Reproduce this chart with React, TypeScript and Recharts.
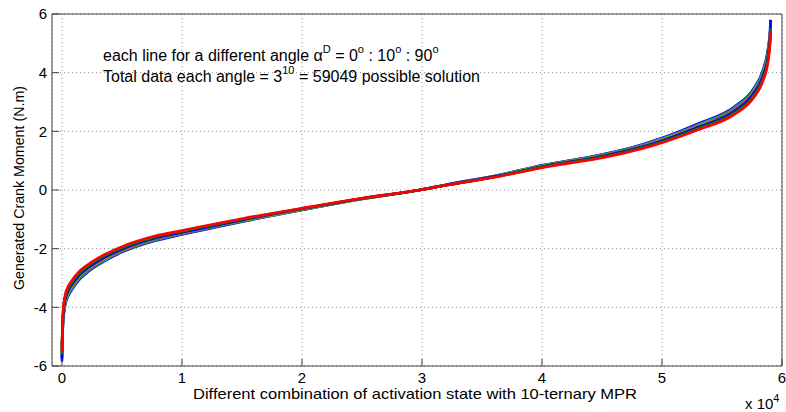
import React from "react";
import { LineChart, Line, XAxis, YAxis, CartesianGrid } from "recharts";

// combination index (sorted), shared by every angle
const combos = [
  0, 30, 100, 250, 500, 800, 1500, 2200, 3600, 5000, 7750, 10000, 15000, 20000,
  25000, 29800, 32000, 36500, 40000, 45000, 48000, 50000, 53000, 56000, 57600,
  58400, 58850, 59000, 59049,
];

// generated crank moment (N.m) for each angle, sorted
const deg0 = [-5.75, -5.1, -4.5, -3.96, -3.63, -3.41, -3.03, -2.78, -2.41, -2.12, -1.73, -1.52, -1.08, -0.68, -0.31, 0, 0.18, 0.52, 0.84, 1.21, 1.51, 1.77, 2.26, 2.83, 3.44, 4.07, 4.84, 5.4, 5.8];
const deg10 = [-5.4, -5.05, -4.45, -3.92, -3.6, -3.38, -3.0, -2.76, -2.39, -2.1, -1.71, -1.5, -1.07, -0.68, -0.31, 0, 0.17, 0.51, 0.83, 1.2, 1.49, 1.75, 2.23, 2.8, 3.41, 4.03, 4.8, 5.3, 5.5];
const deg20 = [-5.7, -4.85, -4.2, -3.71, -3.4, -3.19, -2.83, -2.61, -2.26, -1.99, -1.62, -1.42, -1.01, -0.64, -0.29, 0, 0.16, 0.48, 0.78, 1.13, 1.41, 1.66, 2.11, 2.65, 3.22, 3.81, 4.53, 5.1, 5.6];
const deg30 = [-5.55, -5.0, -4.4, -3.89, -3.56, -3.35, -2.97, -2.73, -2.37, -2.08, -1.7, -1.49, -1.06, -0.67, -0.3, 0, 0.17, 0.51, 0.82, 1.19, 1.48, 1.74, 2.21, 2.78, 3.38, 4.0, 4.75, 5.35, 5.7];
const deg40 = [-5.45, -4.95, -4.35, -3.85, -3.53, -3.32, -2.94, -2.71, -2.34, -2.07, -1.68, -1.48, -1.05, -0.66, -0.3, 0, 0.17, 0.5, 0.81, 1.18, 1.47, 1.72, 2.19, 2.75, 3.35, 3.96, 4.71, 5.3, 5.62];
const deg50 = [-5.5, -4.95, -4.3, -3.82, -3.5, -3.29, -2.92, -2.68, -2.32, -2.05, -1.66, -1.46, -1.04, -0.66, -0.3, 0, 0.17, 0.5, 0.81, 1.17, 1.45, 1.71, 2.17, 2.72, 3.32, 3.92, 4.66, 5.25, 5.55];
const deg60 = [-5.3, -4.9, -4.3, -3.78, -3.47, -3.26, -2.89, -2.66, -2.3, -2.03, -1.65, -1.45, -1.03, -0.65, -0.29, 0, 0.17, 0.49, 0.8, 1.16, 1.44, 1.69, 2.15, 2.7, 3.29, 3.89, 4.62, 5.2, 5.45];
const deg70 = [-5.85, -4.9, -4.25, -3.74, -3.43, -3.22, -2.86, -2.63, -2.28, -2.01, -1.63, -1.44, -1.02, -0.64, -0.29, 0, 0.17, 0.49, 0.79, 1.14, 1.42, 1.67, 2.13, 2.67, 3.26, 3.85, 4.58, 5.15, 5.8];
const deg80 = [-5.6, -4.85, -4.15, -3.67, -3.37, -3.16, -2.81, -2.58, -2.23, -1.97, -1.6, -1.41, -1.0, -0.63, -0.29, 0, 0.16, 0.48, 0.78, 1.12, 1.4, 1.64, 2.09, 2.62, 3.19, 3.77, 4.49, 5.05, 5.5];
const deg90 = [-5.5, -4.8, -4.1, -3.6, -3.3, -3.1, -2.75, -2.53, -2.19, -1.93, -1.57, -1.38, -0.98, -0.62, -0.28, 0, 0.16, 0.47, 0.76, 1.1, 1.37, 1.61, 2.05, 2.57, 3.13, 3.7, 4.4, 5.0, 5.4];

const angles = ["0", "10", "20", "30", "40", "50", "60", "70", "80", "90"];
const series = [deg0, deg10, deg20, deg30, deg40, deg50, deg60, deg70, deg80, deg90];
// matlab default line colour order
const colors = ["#0000ff", "#008000", "#ff0000", "#00bfbf", "#bf00bf", "#bfbf00", "#404040", "#0000ff", "#008000", "#ff0000"];

const xTicks = [0, 10000, 20000, 30000, 40000, 50000, 60000];
const yTicks = [-6, -4, -2, 0, 2, 4, 6];

const data = combos.map((c, i) => {
  const row: Record<string, number> = { combo: c };
  angles.forEach((a, k) => {
    row["a" + a] = series[k][i];
  });
  return row;
});

const W = 786;
const H = 412;
const font = "'Liberation Sans', Arial, Helvetica, sans-serif";
const tickStyle = { fontSize: 15, fill: "#000", fontFamily: font };
const frame = "#404040";

export default function App() {
  return (
    <div style={{ position: "absolute", left: 0, top: 0, width: W, height: H, background: "#fff" }}>
      <LineChart width={W} height={H} data={data} margin={{ top: 14, right: 4, bottom: 0, left: 0 }}>
        <CartesianGrid xAxisId="x" yAxisId="y" stroke="#8c8c8c" strokeDasharray="1 3" />
        <XAxis
          xAxisId="x"
          dataKey="combo"
          type="number"
          domain={[-830, 60000]}
          ticks={xTicks}
          allowDataOverflow
          height={46}
          tickSize={-7}
          tickMargin={13}
          tick={tickStyle}
          tickLine={{ stroke: frame }}
          axisLine={{ stroke: frame }}
          tickFormatter={(v) => `${v / 10000}`}
        />
        <XAxis
          xAxisId="top"
          orientation="top"
          mirror
          type="number"
          domain={[-830, 60000]}
          ticks={xTicks}
          allowDataOverflow
          tickSize={7}
          tick={false}
          tickLine={{ stroke: frame }}
          axisLine={{ stroke: frame }}
        />
        <YAxis
          yAxisId="y"
          type="number"
          domain={[-6, 6]}
          ticks={yTicks}
          width={52}
          tickSize={-7}
          tickMargin={12}
          tick={tickStyle}
          tickLine={{ stroke: frame }}
          axisLine={{ stroke: frame }}
        />
        <YAxis
          yAxisId="right"
          orientation="right"
          mirror
          type="number"
          domain={[-6, 6]}
          ticks={yTicks}
          tickSize={7}
          tick={false}
          tickLine={{ stroke: frame }}
          axisLine={{ stroke: frame }}
        />
        {angles.map((a, k) => (
          <Line
            key={a}
            xAxisId="x"
            yAxisId="y"
            type="monotone"
            dataKey={"a" + a}
            stroke={colors[k]}
            strokeWidth={2.6}
            dot={false}
            isAnimationActive={false}
          />
        ))}
      </LineChart>
      <svg width={W} height={H} style={{ position: "absolute", left: 0, top: 0, pointerEvents: "none" }}>
        <g fontFamily={font} fill="#000">
          <text x={103} y={61} fontSize={16}>
            each line for a different angle α
            <tspan dy={-8} fontSize={11}>D</tspan>
            <tspan dy={8}> = 0</tspan>
            <tspan dy={-8} fontSize={11}>o</tspan>
            <tspan dy={8}> : 10</tspan>
            <tspan dy={-8} fontSize={11}>o</tspan>
            <tspan dy={8}> : 90</tspan>
            <tspan dy={-8} fontSize={11}>o</tspan>
          </text>
          <text x={103} y={82} fontSize={16}>
            Total data each angle = 3
            <tspan dy={-8} fontSize={11}>10</tspan>
            <tspan dy={8}> = 59049 possible solution</tspan>
          </text>
          <text x={415} y={399} fontSize={15} textAnchor="middle" textLength={444} lengthAdjust="spacingAndGlyphs">
            Different combination of activation state with 10-ternary MPR
          </text>
          <text x={745} y={409} fontSize={15}>
            x 10
            <tspan dy={-7} fontSize={11}>4</tspan>
          </text>
          <text
            transform="translate(24,188) rotate(-90)"
            fontSize={15}
            textAnchor="middle"
            textLength={204}
            lengthAdjust="spacingAndGlyphs"
          >
            Generated Crank Moment (N.m)
          </text>
        </g>
      </svg>
    </div>
  );
}
